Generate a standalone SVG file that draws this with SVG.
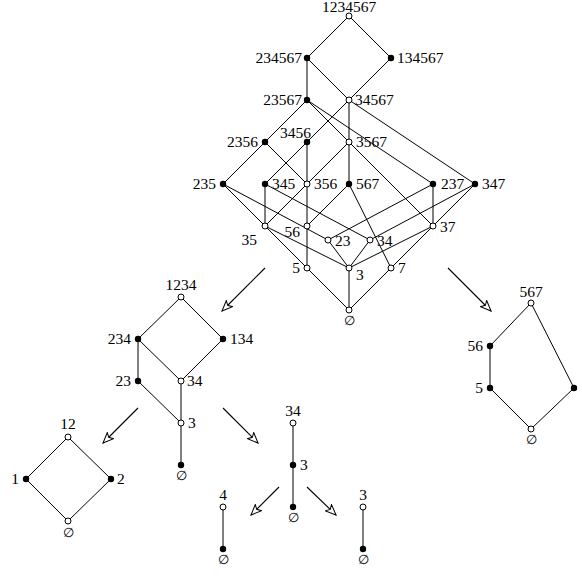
<svg xmlns="http://www.w3.org/2000/svg" width="582" height="577" viewBox="0 0 582 577">
<style>
text{font-family:"Liberation Serif","DejaVu Serif",serif;font-size:15.5px;fill:#000}
.e{text-anchor:end}.m{text-anchor:middle}
.z{font-size:12.5px}
.o{fill:#fff;stroke:#000;stroke-width:1}
.f{fill:#000}
#edges line{stroke:#000;stroke-width:1}
#arrows line{stroke:#000;stroke-width:1.1;marker-end:url(#ah)}
</style>
<defs>
<marker id="ah" markerUnits="userSpaceOnUse" viewBox="0 0 12 10" refX="11" refY="5" markerWidth="12" markerHeight="10" orient="auto">
<path d="M11 5 L0.5 0.6 L3 5 L0.5 9.4 Z" fill="#fff" stroke="#000" stroke-width="1"/>
</marker>
</defs>
<g id="edges">
<line x1="349" y1="16" x2="307" y2="58"/>
<line x1="349" y1="16" x2="391" y2="58"/>
<line x1="307" y1="58" x2="307" y2="100"/>
<line x1="307" y1="58" x2="349" y2="100"/>
<line x1="391" y1="58" x2="349" y2="100"/>
<line x1="307" y1="100" x2="265" y2="142"/>
<line x1="307" y1="100" x2="349" y2="142"/>
<line x1="307" y1="100" x2="433" y2="184"/>
<line x1="349" y1="100" x2="307" y2="142"/>
<line x1="349" y1="100" x2="349" y2="142"/>
<line x1="349" y1="100" x2="475" y2="184"/>
<line x1="265" y1="142" x2="223" y2="184"/>
<line x1="265" y1="142" x2="307" y2="184"/>
<line x1="307" y1="142" x2="265" y2="184"/>
<line x1="307" y1="142" x2="307" y2="184"/>
<line x1="349" y1="142" x2="307" y2="184"/>
<line x1="349" y1="142" x2="349" y2="184"/>
<line x1="349" y1="142" x2="433" y2="226"/>
<line x1="223" y1="184" x2="265" y2="226"/>
<line x1="223" y1="184" x2="328" y2="240"/>
<line x1="265" y1="184" x2="265" y2="226"/>
<line x1="265" y1="184" x2="370" y2="240"/>
<line x1="307" y1="184" x2="265" y2="226"/>
<line x1="307" y1="184" x2="307" y2="226"/>
<line x1="349" y1="184" x2="307" y2="226"/>
<line x1="349" y1="184" x2="391" y2="268"/>
<line x1="433" y1="184" x2="328" y2="240"/>
<line x1="433" y1="184" x2="433" y2="226"/>
<line x1="475" y1="184" x2="370" y2="240"/>
<line x1="475" y1="184" x2="433" y2="226"/>
<line x1="265" y1="226" x2="349" y2="268"/>
<line x1="265" y1="226" x2="307" y2="268"/>
<line x1="307" y1="226" x2="307" y2="268"/>
<line x1="328" y1="240" x2="349" y2="268"/>
<line x1="370" y1="240" x2="349" y2="268"/>
<line x1="433" y1="226" x2="349" y2="268"/>
<line x1="433" y1="226" x2="391" y2="268"/>
<line x1="307" y1="268" x2="349" y2="310"/>
<line x1="349" y1="268" x2="349" y2="310"/>
<line x1="391" y1="268" x2="349" y2="310"/>
<line x1="181" y1="297" x2="138" y2="339"/>
<line x1="181" y1="297" x2="223" y2="339"/>
<line x1="138" y1="339" x2="138" y2="381"/>
<line x1="138" y1="339" x2="181" y2="381"/>
<line x1="223" y1="339" x2="181" y2="381"/>
<line x1="138" y1="381" x2="181" y2="423"/>
<line x1="181" y1="381" x2="181" y2="423"/>
<line x1="181" y1="423" x2="181" y2="465"/>
<line x1="68" y1="437" x2="26" y2="479"/>
<line x1="68" y1="437" x2="111" y2="479"/>
<line x1="26" y1="479" x2="68" y2="521"/>
<line x1="111" y1="479" x2="68" y2="521"/>
<line x1="293" y1="423" x2="293" y2="507"/>
<line x1="223" y1="507" x2="223" y2="549"/>
<line x1="363" y1="507" x2="363" y2="549"/>
<line x1="531" y1="303" x2="490" y2="346"/>
<line x1="490" y1="346" x2="490" y2="388"/>
<line x1="490" y1="388" x2="531" y2="429"/>
<line x1="531" y1="429" x2="574" y2="388"/>
<line x1="574" y1="388" x2="531" y2="303"/>
</g>
<g id="arrows">
<line x1="265" y1="268" x2="222" y2="311"/>
<line x1="448" y1="268" x2="491" y2="311"/>
<line x1="138" y1="408" x2="103" y2="443"/>
<line x1="223" y1="408" x2="258" y2="443"/>
<line x1="279" y1="487" x2="251" y2="515"/>
<line x1="307" y1="487" x2="336" y2="515"/>
</g>
<g id="n1234567"><circle class="o" cx="349" cy="16" r="3"/><text class="m" x="349" y="12">1234567</text></g>
<g id="n234567"><circle class="f" cx="307" cy="58" r="3.2"/><text class="e" x="302" y="63">234567</text></g>
<g id="n134567"><circle class="f" cx="391" cy="58" r="3.2"/><text x="397" y="63">134567</text></g>
<g id="n23567"><circle class="f" cx="307" cy="100" r="3.2"/><text class="e" x="302" y="105">23567</text></g>
<g id="n34567"><circle class="o" cx="349" cy="100" r="3"/><text x="355" y="105">34567</text></g>
<g id="n2356"><circle class="f" cx="265" cy="142" r="3.2"/><text class="e" x="258" y="147">2356</text></g>
<g id="n3456"><circle class="f" cx="307" cy="142" r="3.2"/><text class="e" x="311" y="138">3456</text></g>
<g id="n3567"><circle class="o" cx="349" cy="142" r="3"/><text x="356" y="147">3567</text></g>
<g id="n235"><circle class="f" cx="223" cy="184" r="3.2"/><text class="e" x="216" y="189">235</text></g>
<g id="n345"><circle class="f" cx="265" cy="184" r="3.2"/><text x="272" y="189">345</text></g>
<g id="n356"><circle class="o" cx="307" cy="184" r="3"/><text x="314" y="189">356</text></g>
<g id="n567"><circle class="f" cx="349" cy="184" r="3.2"/><text x="356" y="189">567</text></g>
<g id="n237"><circle class="f" cx="433" cy="184" r="3.2"/><text x="441" y="189">237</text></g>
<g id="n347"><circle class="f" cx="475" cy="184" r="3.2"/><text x="482" y="189">347</text></g>
<g id="n35"><circle class="o" cx="265" cy="226" r="3"/><text class="e" x="257" y="245">35</text></g>
<g id="n56"><circle class="o" cx="307" cy="226" r="3"/><text class="e" x="300" y="237">56</text></g>
<g id="n23"><circle class="o" cx="328" cy="240" r="3"/><text x="335" y="246">23</text></g>
<g id="n34"><circle class="o" cx="370" cy="240" r="3"/><text x="377" y="246">34</text></g>
<g id="n37"><circle class="o" cx="433" cy="226" r="3"/><text x="440" y="232">37</text></g>
<g id="n5"><circle class="o" cx="307" cy="268" r="3"/><text class="e" x="300" y="273">5</text></g>
<g id="n3"><circle class="o" cx="349" cy="268" r="3"/><text x="356" y="280">3</text></g>
<g id="n7"><circle class="o" cx="391" cy="268" r="3"/><text x="398" y="273">7</text></g>
<g id="nempty"><circle class="o" cx="349" cy="310" r="3"/><text class="m z" x="349" y="325">∅</text></g>
<g id="L1234"><circle class="o" cx="181" cy="297" r="3"/><text class="m" x="181" y="290">1234</text></g>
<g id="L234"><circle class="f" cx="138" cy="339" r="3.2"/><text class="e" x="131" y="344">234</text></g>
<g id="L134"><circle class="f" cx="223" cy="339" r="3.2"/><text x="230" y="344">134</text></g>
<g id="L23"><circle class="f" cx="138" cy="381" r="3.2"/><text class="e" x="131" y="386">23</text></g>
<g id="L34"><circle class="o" cx="181" cy="381" r="3"/><text x="187" y="386">34</text></g>
<g id="L3"><circle class="o" cx="181" cy="423" r="3"/><text x="188" y="428">3</text></g>
<g id="Lempty"><circle class="f" cx="181" cy="465" r="3.2"/><text class="m z" x="181" y="480">∅</text></g>
<g id="D12"><circle class="o" cx="68" cy="437" r="3"/><text class="m" x="68" y="429">12</text></g>
<g id="D1"><circle class="f" cx="26" cy="479" r="3.2"/><text class="e" x="19" y="484">1</text></g>
<g id="D2"><circle class="f" cx="111" cy="479" r="3.2"/><text x="117" y="484">2</text></g>
<g id="Dempty"><circle class="o" cx="68" cy="521" r="3"/><text class="m z" x="68" y="537">∅</text></g>
<g id="M34"><circle class="o" cx="293" cy="423" r="3"/><text class="m" x="293" y="416">34</text></g>
<g id="M3"><circle class="f" cx="293" cy="465" r="3.2"/><text x="300" y="470">3</text></g>
<g id="Mempty"><circle class="f" cx="293" cy="507" r="3.2"/><text class="m z" x="293" y="522">∅</text></g>
<g id="B4"><circle class="o" cx="223" cy="507" r="3"/><text class="m" x="223" y="500">4</text></g>
<g id="B4empty"><circle class="f" cx="223" cy="549" r="3.2"/><text class="m z" x="223" y="564">∅</text></g>
<g id="B3"><circle class="o" cx="363" cy="507" r="3"/><text class="m" x="363" y="500">3</text></g>
<g id="B3empty"><circle class="f" cx="363" cy="549" r="3.2"/><text class="m z" x="363" y="564">∅</text></g>
<g id="R567"><circle class="o" cx="531" cy="303" r="3"/><text class="m" x="531" y="297">567</text></g>
<g id="R56"><circle class="f" cx="490" cy="346" r="3.2"/><text class="e" x="483" y="351">56</text></g>
<g id="R5"><circle class="f" cx="490" cy="388" r="3.2"/><text class="e" x="483" y="393">5</text></g>
<g id="R7"><circle class="f" cx="574" cy="388" r="3.2"/></g>
<g id="Rempty"><circle class="o" cx="531" cy="429" r="3"/><text class="m z" x="531" y="444">∅</text></g>
</svg>
